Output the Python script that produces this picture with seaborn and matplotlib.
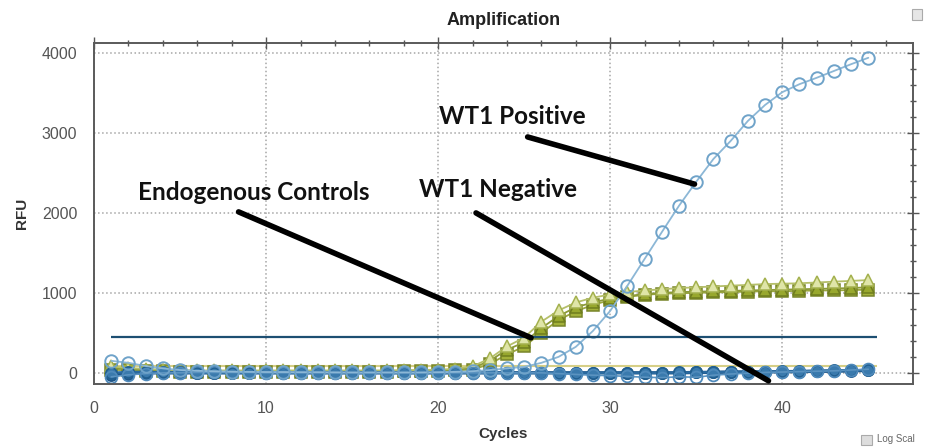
import seaborn as sns
import pandas as pd
import matplotlib.pyplot as plt
from matplotlib.ticker import MultipleLocator
from matplotlib.patches import Rectangle

# qPCR amplification curves
cycles = list(range(1, 46))

wt1_positive = [150, 125, 85, 55, 35, 25, 20, 15, 12, 10, 10, 8, 8, 6, 5,
                5, 5, 5, 5, 8, 12, 20, 35, 55, 75, 125, 200, 325, 525, 775,
                1090, 1425, 1760, 2090, 2390, 2675, 2900, 3150, 3350, 3510,
                3610, 3690, 3775, 3860, 3940]
wt1_negative = [-50, -25, -10, 0, 0, 5, 5, 5, 5, 0, 0, 0, 0, 0, 0,
                0, 0, 0, 0, 0, 0, 0, 0, 0, 0, 0, -10, -20, -30, -35,
                -45, -55, -60, -50, -55, -30, -15, -5, 5, 10,
                15, 20, 25, 35, 45]
ntc_a = [0, 10, 10, 5, 5, 0, 0, 0, 0, 0, 0, 0, 0, 0, 0,
         0, 0, 0, 0, 0, 0, 0, 0, 0, 0, 0, 0, 0, 0, 0,
         0, 0, 0, 5, 5, 10, 10, 15, 15, 20, 20, 25, 30, 30, 35]
ntc_b = [-30, -10, 0, 0, 0, 0, 0, 0, 0, 0, 0, 0, 0, 0, 0,
         0, 0, 0, 0, 0, 0, 0, 0, 0, 0, 0, 0, 0, 0, 0,
         0, 0, 0, 0, 5, 5, 10, 10, 10, 15, 15, 20, 20, 25, 30]
endo_a = [80, 60, 50, 40, 35, 30, 30, 30, 30, 30, 30, 30, 30, 30, 30,
          30, 30, 35, 35, 40, 50, 80, 180, 330, 440, 640, 780, 880, 940, 980,
          1010, 1030, 1045, 1060, 1070, 1080, 1090, 1100, 1110, 1115,
          1120, 1130, 1140, 1150, 1160]
endo_b = [60, 45, 35, 30, 25, 20, 20, 20, 20, 20, 20, 20, 20, 20, 20,
          20, 20, 25, 25, 30, 40, 60, 150, 290, 380, 560, 710, 820, 880, 930,
          960, 985, 1000, 1010, 1015, 1020, 1025, 1030, 1035, 1040,
          1045, 1050, 1055, 1060, 1070]
endo_c = [40, 30, 25, 20, 15, 15, 15, 15, 15, 15, 15, 15, 15, 15, 15,
          15, 15, 20, 20, 25, 30, 40, 110, 230, 330, 500, 660, 770, 850, 910,
          950, 975, 990, 995, 1000, 1005, 1010, 1015, 1020, 1020,
          1025, 1030, 1030, 1035, 1040]

fam_threshold = 450
hex_threshold = 80

df = pd.DataFrame({'cycle': cycles, 'pos': wt1_positive, 'neg': wt1_negative,
                   'ntc_a': ntc_a, 'ntc_b': ntc_b, 'endo_a': endo_a,
                   'endo_b': endo_b, 'endo_c': endo_c})

sns.set_theme(style='white')
plt.rcParams['font.family'] = ['Liberation Sans', 'DejaVu Sans']

fig = plt.figure(figsize=(9.33, 4.47), dpi=100, facecolor='white')
ax = fig.add_axes([0.1008, 0.1409, 0.8778, 0.7629])

# endogenous controls (green triangles / squares)
styles = [
    ('endo_c', 's', '#a3b13a', '#78852a', '#9aa640', 1.3),
    ('endo_b', '^', '#98a82e', '#6f7d1e', '#8c9a38', 1.3),
    ('endo_a', '^', '#dfe5a8', '#a4b14e', '#b5bf6a', 1.3),
]
for col, mk, face, edge, line, lw in styles:
    sns.lineplot(data=df, x='cycle', y=col, ax=ax, color=line, lw=lw,
                 marker=mk, markersize=8, markerfacecolor=face,
                 markeredgecolor=edge, markeredgewidth=1.1)

# thresholds
ax.hlines(hex_threshold, 1, 45.5, color='#d6cf86', lw=1.5, zorder=1)
ax.hlines(fam_threshold, 1, 45.5, color='#1d4f72', lw=1.6, zorder=3)

# negatives and NTC (blue circles)
sns.lineplot(data=df, x='cycle', y='ntc_b', ax=ax, color='#1d5588', lw=2.4,
             marker='o', markersize=8, markerfacecolor='#2f6f9f',
             markeredgecolor='#1d5588', markeredgewidth=1.3)
sns.lineplot(data=df, x='cycle', y='ntc_a', ax=ax, color='#2a6aa0', lw=1.8,
             marker='o', markersize=8, markerfacecolor='#3a7aad',
             markeredgecolor='#215f90', markeredgewidth=1.3)
sns.lineplot(data=df, x='cycle', y='neg', ax=ax, color='#5b93c0', lw=1.2,
             marker='o', markersize=8.5, markerfacecolor='none',
             markeredgecolor='#4f8abb', markeredgewidth=1.3)
# WT1 positive
sns.lineplot(data=df, x='cycle', y='pos', ax=ax, color='#8cb7d6', lw=1.3,
             marker='o', markersize=9, markerfacecolor='none',
             markeredgecolor='#6fa3c9', markeredgewidth=1.4)

ax.set_xlim(0, 47.6)
ax.set_ylim(-140, 4125)
ax.xaxis.set_major_locator(MultipleLocator(10))
ax.xaxis.set_minor_locator(MultipleLocator(2))
ax.yaxis.set_major_locator(MultipleLocator(1000))
ax.yaxis.set_minor_locator(MultipleLocator(200))
ax.grid(True, which='major', linestyle=':', color='#a6a6a6', lw=1.1)
ax.tick_params(which='both', direction='inout', colors='#555555',
               top=True, right=True, labelsize=11.5, labelcolor='#555555')
ax.tick_params(which='major', length=8, width=1)
ax.tick_params(which='minor', length=5, width=1)
ax.tick_params(axis='x', pad=8)
ax.tick_params(axis='y', pad=8)
for s in ax.spines.values():
    s.set_color('#5a5a5a')
    s.set_linewidth(1.4)

font_dict = {'weight': 'bold', 'size': 11, 'color': '#333333'}
ax.set_xlabel('Cycles', fontdict=font_dict, labelpad=8)
ax.set_ylabel('RFU', fontdict=font_dict, labelpad=9)
ax.set_title('Amplification', fontdict={'weight': 'bold', 'size': 13,
                                        'color': '#222222'}, pad=13)

# annotations
ann_font = {'family': ['Lato', 'DejaVu Sans'], 'weight': 'bold',
            'size': 17.5, 'color': '#111111'}
notes = [
    ('WT1 Positive', (24.3, 3210), (25.2, 2950), (34.9, 2360)),
    ('Endogenous Controls', (9.3, 2260), (8.4, 2013), (25.4, 438)),
    ('WT1 Negative', (23.5, 2290), (22.2, 2000), (39.2, -100)),
]
for label, txt_xy, start, end in notes:
    ax.text(txt_xy[0], txt_xy[1], label, ha='center', va='center',
            fontdict=ann_font, zorder=6)
    ax.annotate('', xy=end, xytext=start,
                arrowprops=dict(arrowstyle='-', lw=4, color='black',
                                shrinkA=0, shrinkB=0), zorder=6)

# little widgets from the software screen
fig.patches.append(Rectangle((0.9225, 0.005), 0.012, 0.022, transform=fig.transFigure,
                             facecolor='#dddddd', edgecolor='#aaaaaa', lw=0.8))
fig.text(0.94, 0.012, 'Log Scal', fontsize=7, color='#666666')
fig.patches.append(Rectangle((0.978, 0.955), 0.01, 0.025, transform=fig.transFigure,
                             facecolor='#e6e6e6', edgecolor='#aaaaaa', lw=0.8))

plt.savefig('out.png', dpi=100)
